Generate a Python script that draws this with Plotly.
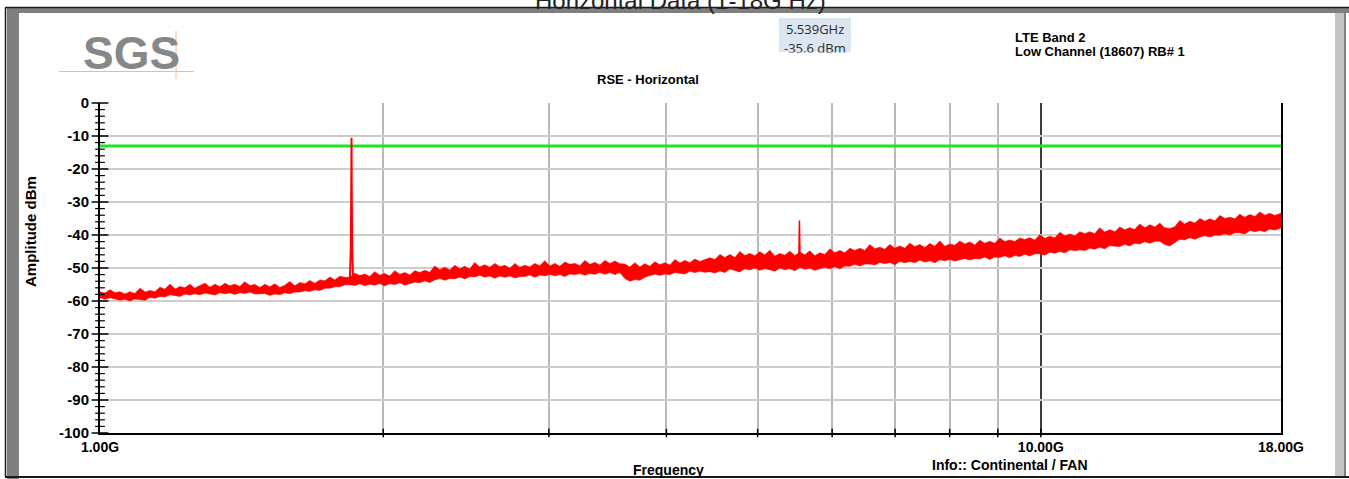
import math
import plotly.graph_objects as go

W, H = 1349, 479

# ---------------- data ----------------
freq_ghz = [1.000, 1.012, 1.025, 1.038, 1.050, 1.063, 1.076, 1.089, 1.103, 1.117,
            1.130, 1.144, 1.158, 1.172, 1.187, 1.202, 1.216, 1.231, 1.246, 1.261,
            1.277, 1.293, 1.309, 1.325, 1.341, 1.358, 1.374, 1.391, 1.408, 1.425,
            1.443, 1.461, 1.479, 1.497, 1.515, 1.534, 1.553, 1.572, 1.591, 1.611,
            1.631, 1.651, 1.671, 1.692, 1.713, 1.734, 1.755, 1.777, 1.798, 1.820,
            1.843, 1.866, 1.889, 1.912, 1.935, 1.959, 1.983, 2.007, 2.032, 2.057,
            2.083, 2.109, 2.135, 2.161, 2.187, 2.214, 2.241, 2.269, 2.297, 2.325,
            2.354, 2.383, 2.412, 2.442, 2.472, 2.502, 2.533, 2.564, 2.596, 2.628,
            2.661, 2.694, 2.727, 2.761, 2.794, 2.828, 2.863, 2.898, 2.934, 2.970,
            3.007, 3.044, 3.081, 3.119, 3.158, 3.197, 3.236, 3.276, 3.316, 3.357,
            3.399, 3.441, 3.483, 3.526, 3.569, 3.613, 3.658, 3.703, 3.748, 3.794,
            3.841, 3.888, 3.936, 3.984, 4.034, 4.084, 4.134, 4.185, 4.236, 4.288,
            4.341, 4.394, 4.449, 4.504, 4.559, 4.615, 4.672, 4.730, 4.787, 4.846,
            4.906, 4.966, 5.027, 5.089, 5.152, 5.215, 5.279, 5.344, 5.410, 5.477,
            5.545, 5.613, 5.682, 5.752, 5.823, 5.895, 5.967, 6.040, 6.115, 6.190,
            6.266, 6.343, 6.421, 6.500, 6.580, 6.661, 6.743, 6.826, 6.910, 6.995,
            7.082, 7.169, 7.257, 7.346, 7.437, 7.529, 7.621, 7.715, 7.810, 7.906,
            8.003, 8.102, 8.201, 8.302, 8.404, 8.507, 8.613, 8.719, 8.826, 8.935,
            9.045, 9.156, 9.269, 9.383, 9.498, 9.615, 9.733, 9.853, 9.974, 10.10,
            10.22, 10.35, 10.48, 10.61, 10.74, 10.87, 11.00, 11.14, 11.27, 11.41,
            11.55, 11.69, 11.84, 11.99, 12.13, 12.28, 12.43, 12.58, 12.74, 12.90,
            13.06, 13.22, 13.38, 13.54, 13.71, 13.88, 14.05, 14.22, 14.40, 14.58,
            14.76, 14.94, 15.12, 15.31, 15.50, 15.69, 15.88, 16.08, 16.27, 16.47,
            16.68, 16.89, 17.09, 17.30, 17.51, 17.73, 18.00]

# upper envelope of the noisy red trace (dBm)
trace_max = [-57.2, -57.6, -56.6, -57.5, -57.2, -57.9, -57.2, -57.7, -56.1, -57.3,
             -56.8, -57.2, -55.8, -56.4, -54.9, -56.4, -55.6, -56.0, -54.9, -56.1,
             -55.3, -54.6, -55.8, -54.9, -55.7, -54.6, -55.4, -54.9, -55.6, -54.2,
             -55.3, -55.0, -55.9, -54.9, -55.7, -54.8, -55.9, -55.2, -54.1, -55.4,
             -54.4, -54.8, -53.8, -54.6, -53.6, -53.9, -52.7, -53.6, -52.5, -52.8,
             -52.8, -51.6, -52.3, -51.8, -52.6, -51.1, -52.2, -51.7, -52.4, -50.8,
             -51.9, -51.4, -52.1, -50.8, -51.4, -50.7, -51.3, -49.4, -50.5, -49.8,
             -50.6, -49.2, -50.2, -49.5, -50.3, -48.3, -49.7, -49.0, -49.8, -48.6,
             -49.6, -49.2, -50.1, -48.6, -49.8, -49.2, -49.7, -48.6, -49.3, -47.8,
             -49.4, -48.6, -49.5, -48.2, -48.9, -48.6, -49.3, -47.7, -48.9, -48.3,
             -49.1, -47.7, -48.6, -47.9, -48.7, -48.8, -49.7, -48.4, -49.7, -48.7,
             -49.5, -48.1, -49.0, -48.4, -49.1, -47.4, -48.5, -47.7, -48.4, -47.3,
             -48.0, -47.5, -46.9, -47.4, -45.9, -46.8, -45.9, -46.8, -45.0, -46.2,
             -45.6, -46.3, -45.1, -46.0, -44.6, -46.4, -45.6, -46.1, -44.9, -46.2,
             -45.2, -46.0, -44.8, -46.3, -45.4, -45.9, -44.2, -45.4, -44.7, -45.4,
             -44.0, -44.7, -44.0, -44.7, -42.9, -44.2, -43.7, -44.3, -42.9, -44.0,
             -43.3, -44.0, -42.5, -43.5, -42.9, -43.8, -42.6, -43.4, -41.8, -43.4,
             -42.7, -43.1, -41.8, -42.7, -42.1, -43.0, -41.6, -42.5, -41.9, -42.5,
             -40.9, -42.0, -41.5, -42.0, -40.9, -41.4, -40.8, -41.5, -39.9, -41.0,
             -40.4, -40.8, -39.2, -40.3, -39.7, -40.3, -39.0, -39.6, -39.0, -39.6,
             -37.8, -39.1, -38.4, -39.0, -37.6, -38.4, -37.8, -38.3, -36.7, -37.8,
             -36.9, -37.6, -36.4, -37.8, -38.0, -37.5, -35.6, -36.7, -35.8, -36.4,
             -35.0, -35.8, -35.1, -35.7, -34.1, -35.0, -34.6, -35.1, -33.7, -34.6,
             -33.8, -34.4, -33.0, -34.0, -33.4, -34.1, -33.4]
# lower envelope of the noisy red trace (dBm)
trace_min = [-59.0, -59.5, -59.0, -59.4, -59.8, -59.5, -60.0, -59.4, -59.5, -59.8,
             -58.9, -59.2, -58.6, -58.8, -58.1, -58.4, -58.6, -57.9, -58.2, -57.8,
             -58.1, -57.6, -57.9, -58.2, -57.5, -57.8, -57.5, -58.0, -57.5, -57.7,
             -57.3, -57.9, -57.8, -57.7, -58.3, -57.9, -58.1, -57.5, -57.8, -57.3,
             -57.3, -56.9, -57.1, -56.6, -56.8, -56.1, -56.1, -55.7, -55.7, -55.1,
             -55.1, -55.3, -54.8, -55.4, -54.9, -55.2, -54.7, -55.4, -54.8, -55.0,
             -54.5, -55.2, -54.7, -54.3, -54.5, -53.9, -54.4, -53.6, -53.2, -53.7,
             -53.2, -53.3, -52.7, -53.3, -52.6, -52.7, -52.2, -52.8, -52.4, -53.1,
             -52.4, -52.8, -52.4, -53.0, -52.6, -52.6, -52.1, -52.8, -52.1, -52.4,
             -51.9, -52.4, -52.0, -52.6, -51.8, -52.0, -51.7, -52.2, -51.7, -51.9,
             -51.4, -51.9, -51.4, -52.0, -51.4, -53.2, -54.0, -53.5, -53.7, -52.8,
             -52.3, -51.9, -52.2, -51.8, -52.0, -51.4, -51.5, -51.8, -51.0, -51.4,
             -51.0, -51.3, -51.1, -51.5, -50.9, -51.4, -50.3, -50.7, -51.2, -50.2,
             -50.6, -50.0, -50.7, -50.2, -50.5, -51.0, -50.0, -50.5, -50.2, -50.8,
             -49.8, -50.4, -50.1, -50.7, -50.2, -49.8, -50.2, -49.6, -50.2, -49.4,
             -49.5, -48.9, -49.4, -48.8, -48.8, -49.1, -48.3, -48.7, -48.3, -49.0,
             -48.0, -48.4, -48.0, -48.4, -47.6, -48.2, -47.8, -48.4, -47.5, -47.8,
             -47.4, -47.9, -47.4, -47.1, -47.6, -47.1, -47.3, -46.7, -47.4, -46.7,
             -46.8, -46.3, -46.9, -46.2, -46.5, -45.8, -46.4, -45.7, -45.7, -46.1,
             -45.2, -45.5, -45.0, -45.4, -44.5, -44.8, -44.5, -44.7, -44.0, -44.3,
             -43.7, -44.2, -43.2, -43.4, -43.5, -42.8, -43.3, -42.5, -42.7, -42.0,
             -42.5, -41.9, -41.9, -42.9, -43.3, -42.4, -41.3, -41.5, -40.8, -41.3,
             -40.6, -40.2, -40.6, -40.0, -40.1, -39.6, -40.0, -39.3, -39.3, -39.7,
             -38.6, -39.0, -38.6, -39.0, -38.2, -38.5, -37.9]

# carrier (LTE Band 2, low channel 1850.7 MHz) and marker spur
carrier_ghz = [1.843, 1.847, 1.849, 1.8507, 1.852, 1.854, 1.858]
carrier_dbm = [-54.0, -45.0, -30.0, -10.5, -30.0, -45.0, -53.5]
spur_ghz = [5.530, 5.539, 5.548]
spur_dbm = [-48.0, -35.6, -48.0]

limit_ghz = [1.0, 18.0]
limit_dbm = [-13.0, -13.0]

y_ticks = [0, -10, -20, -30, -40, -50, -60, -70, -80, -90, -100]
y_ticktext = ["0", "-10", "-20", "-30", "-40", "-50", "-60", "-70", "-80", "-90", "-100"]
y_minor_ticks = [v for v in range(-98, 0, 2) if v % 10 != 0]
x_ticks = [1, 10, 18]
x_ticktext = ["1.00G", "10.00G", "18.00G"]
x_grid = [2, 3, 4, 5, 6, 7, 8, 9]

# ---------------- helpers ----------------
def px(x):
    return x / W

def py(y):
    return 1 - y / H

NARROW = "Liberation Sans Narrow, Arial Narrow, Liberation Sans, Arial, sans-serif"
SANS = "Liberation Sans, Arial, sans-serif"

fig = go.Figure()

# noise band
fig.add_trace(go.Scatter(
    x=freq_ghz + freq_ghz[::-1], y=trace_max + trace_min[::-1],
    fill="toself", fillcolor="#ff0000", mode="lines",
    line=dict(color="#ff0000", width=0.6), hoverinfo="skip", showlegend=False))
# limit line
fig.add_trace(go.Scatter(x=limit_ghz, y=limit_dbm, mode="lines",
                         line=dict(color="#1ee61e", width=3), showlegend=False))
# carrier and spur
fig.add_trace(go.Scatter(x=carrier_ghz, y=carrier_dbm, mode="lines",
                         line=dict(color="#ff0000", width=2), showlegend=False))
fig.add_trace(go.Scatter(x=spur_ghz, y=spur_dbm, mode="lines",
                         line=dict(color="#ff0000", width=1.5), showlegend=False))

# tick marks crossing the axes (drawn as marker glyphs on the axis lines)
fig.add_trace(go.Scatter(x=[1] * len(y_ticks), y=y_ticks, mode="markers", cliponaxis=False,
                         marker=dict(symbol="line-ew", size=12,
                                     line=dict(color="black", width=1.5)),
                         hoverinfo="skip", showlegend=False))
fig.add_trace(go.Scatter(x=[1] * len(y_minor_ticks), y=y_minor_ticks, mode="markers",
                         cliponaxis=False,
                         marker=dict(symbol="line-ew", size=7,
                                     line=dict(color="black", width=1.2)),
                         hoverinfo="skip", showlegend=False))
fig.add_trace(go.Scatter(x=x_grid + [10], y=[-100] * (len(x_grid) + 1), mode="markers",
                         cliponaxis=False,
                         marker=dict(symbol="line-ns", size=6,
                                     line=dict(color="black", width=1.5)),
                         hoverinfo="skip", showlegend=False))

xdom = [px(100), px(1281)]
ydom = [py(433), py(103)]
xr = [0, math.log10(18)]

fig.update_layout(
    width=W, height=H, margin=dict(l=0, r=0, t=0, b=0, autoexpand=False),
    paper_bgcolor="white", plot_bgcolor="white", showlegend=False,
    xaxis=dict(type="log", range=xr, domain=xdom, tickvals=x_ticks, ticktext=x_ticktext,
               showgrid=True, gridcolor="#3c3c3c", gridwidth=1.5,
               minor=dict(tickmode="array", tickvals=x_grid, showgrid=True,
                          gridcolor="#b8b8b8", gridwidth=1.5, ticks=""),
               showline=True, linecolor="black", linewidth=2, ticks="", zeroline=False,
               tickfont=dict(family=NARROW, size=14, color="black", weight="bold"),
               anchor="y", automargin=False),
    yaxis=dict(range=[-100, 0], domain=ydom, tickvals=y_ticks, ticktext=y_ticktext,
               showgrid=True, gridcolor="#cdcdcd", gridwidth=2, zeroline=False,
               showline=True, linecolor="black", linewidth=2, mirror=True,
               ticks="outside", ticklen=6, tickwidth=1.5, tickcolor="rgba(0,0,0,0)",
               tickfont=dict(family=NARROW, size=15, color="black", weight="bold"),
               anchor="x", automargin=False),
)

shapes = [
    # frame
    dict(type="rect", xref="paper", yref="paper", x0=px(7), x1=px(19), y0=py(479), y1=py(9),
         fillcolor="#7f7f7f", line=dict(width=0), layer="below"),
    dict(type="rect", xref="paper", yref="paper", x0=px(7), x1=px(1349), y0=py(13), y1=py(8),
         fillcolor="#7f7f7f", line=dict(width=0), layer="below"),
    dict(type="rect", xref="paper", yref="paper", x0=px(1335), x1=px(1346), y0=py(476), y1=py(13),
         fillcolor="#c4c4c4", line=dict(width=0), layer="below"),
    dict(type="line", xref="paper", yref="paper", x0=px(1345), x1=px(1345), y0=py(476), y1=py(13),
         line=dict(color="#6a6a6a", width=1.5)),
    dict(type="line", xref="paper", yref="paper", x0=px(5), x1=px(1349), y0=py(7.5), y1=py(7.5),
         line=dict(color="#1a1a1a", width=1.5)),
    dict(type="line", xref="paper", yref="paper", x0=px(5.5), x1=px(5.5), y0=py(477), y1=py(7.5),
         line=dict(color="#1a1a1a", width=1.5)),
    dict(type="line", xref="paper", yref="paper", x0=px(5), x1=px(1349), y0=py(477), y1=py(477),
         line=dict(color="#1a1a1a", width=2)),
    # SGS logo lines
    dict(type="line", xref="paper", yref="paper", x0=px(59), x1=px(194), y0=py(71.5), y1=py(71.5),
         line=dict(color="#f2b98c", width=1)),
    dict(type="line", xref="paper", yref="paper", x0=px(176), x1=px(176), y0=py(79), y1=py(31),
         line=dict(color="#f2b98c", width=1)),
    # marker box
    dict(type="rect", xref="paper", yref="paper", x0=px(779), x1=px(851), y0=py(52), y1=py(18),
         fillcolor="#dce6f1", line=dict(width=0), layer="below"),
]
fig.update_layout(shapes=shapes)

def ann(text, x, y, size, family=NARROW, bold=True, xanchor="center", color="black",
        angle=0, yanchor="middle"):
    fig.add_annotation(text=text, x=px(x), y=py(y), xref="paper", yref="paper",
                       showarrow=False, xanchor=xanchor, yanchor=yanchor, textangle=angle,
                       font=dict(family=family, size=size, color=color,
                                 weight="bold" if bold else "normal"))

ann("Horizontal Data (1-18G Hz)", 680, 1, 24, family=SANS, bold=False, color="#222222")
ann("SGS", 131, 53, 46, family=SANS, bold=True, color="#878787")
ann("5.539GHz", 815, 29, 13, family="Open Sans, Liberation Sans, sans-serif", bold=False,
    color="#2a2a2a")
ann("-35.6 dBm", 815, 48, 13, family="Open Sans, Liberation Sans, sans-serif", bold=False,
    color="#2a2a2a")
# cover lower part of marker text (clipped in the reference)
fig.add_annotation(text=" ", x=px(815), y=py(52), xref="paper", yref="paper", showarrow=False,
                   xanchor="center", yanchor="top", width=90, height=12, bgcolor="white",
                   borderpad=0, font=dict(size=8))
ann("LTE Band 2", 1013, 37, 13, xanchor="left")
ann("Low Channel (18607) RB# 1", 1013, 51, 13, xanchor="left")
ann("RSE - Horizontal", 648, 79, 13)
ann("Amplitude dBm", 30, 232, 15, angle=-90)
ann("Frequency", 668, 470, 14)
ann("Info:: Continental / FAN", 1010, 465, 14)

fig.write_html("out.html", config={"displayModeBar": False},
               post_script="document.body.style.margin='0';document.body.style.overflow='hidden';")
